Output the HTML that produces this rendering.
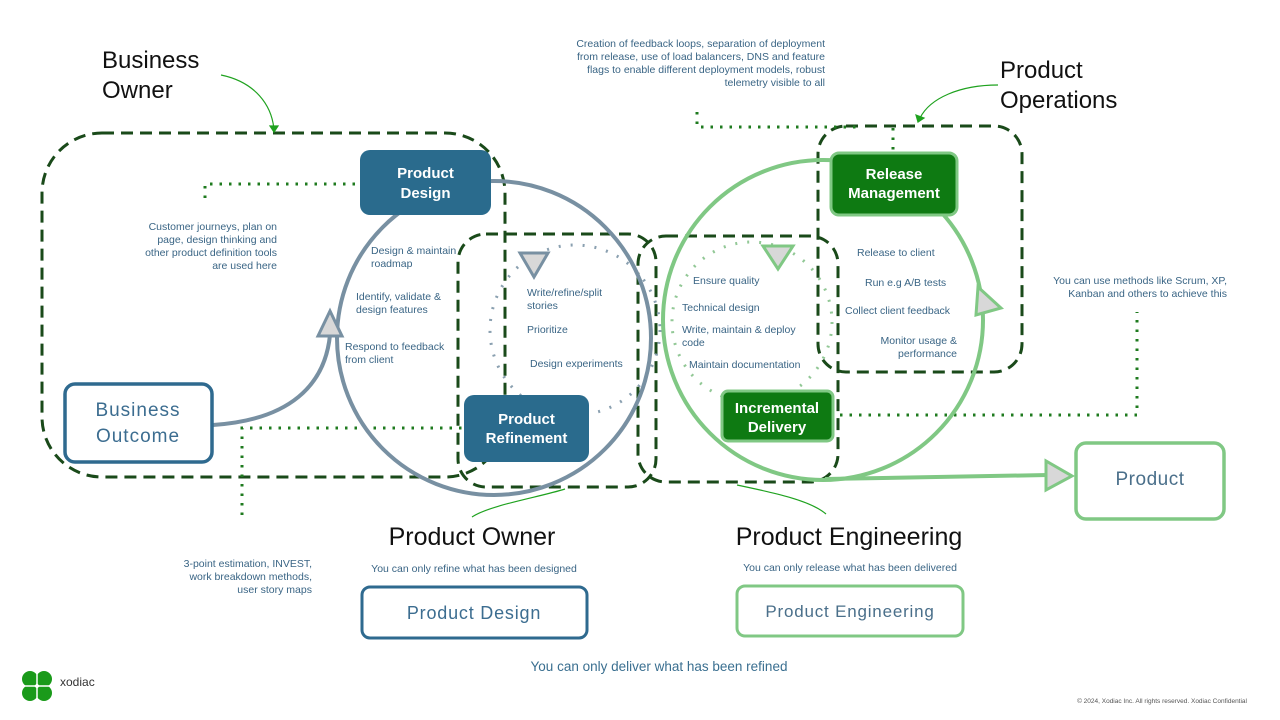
<!DOCTYPE html>
<html><head><meta charset="utf-8"><style>
html,body{margin:0;padding:0;background:#fff;}
svg{display:block;font-family:"Liberation Sans",sans-serif;}
.s{font-size:10.5px;fill:#3a6585;}
</style></head><body>
<svg width="1280" height="720" viewBox="0 0 1280 720" xmlns="http://www.w3.org/2000/svg">
<g fill="none" stroke="#1a4a1a" stroke-width="3" stroke-dasharray="12,7">
<rect x="42" y="133" width="463" height="344" rx="60"/>
<rect x="458" y="234" width="198" height="253" rx="28"/>
<rect x="638" y="236" width="200" height="246" rx="28"/>
<rect x="818" y="126" width="204" height="246" rx="28"/>
</g>
<g fill="none" stroke="#1e7a1e" stroke-width="3" stroke-dasharray="2.5,7">
<polyline points="205,198 205,184 360,184"/>
<polyline points="242,515 242,428 462,428"/>
<polyline points="697,112 697,127 860,127"/>
<line x1="893" y1="128" x2="893" y2="152"/>
<polyline points="840,415 1137,415 1137,312"/>
</g>
<circle cx="575" cy="330" r="85" fill="none" stroke="#8aa0b0" stroke-width="3" stroke-dasharray="2,10"/>
<circle cx="752" cy="322" r="80" fill="none" stroke="#92c896" stroke-width="3" stroke-dasharray="2,10"/>
<circle cx="494" cy="338" r="157" fill="none" stroke="#7890a2" stroke-width="4"/>
<path d="M213,425 C290,420 325,385 330,335" fill="none" stroke="#7890a2" stroke-width="4"/>
<circle cx="823" cy="320" r="160" fill="none" stroke="#80c884" stroke-width="4"/>
<line x1="825" y1="479" x2="1048" y2="475" stroke="#80c884" stroke-width="4"/>
<polygon points="318,336 342,336 330,311" fill="#d8d8d8" stroke="#7890a2" stroke-width="3"/>
<polygon points="520,253 548,253 534,277" fill="#d8d8d8" stroke="#7890a2" stroke-width="3"/>
<polygon points="763,246 793,246 778,269" fill="#d8d8d8" stroke="#80c884" stroke-width="3"/>
<polygon points="978,287 1001,308 976,315" fill="#d8d8d8" stroke="#80c884" stroke-width="3"/>
<polygon points="1046,461 1046,490 1072,476" fill="#d8d8d8" stroke="#80c884" stroke-width="3"/>
<g fill="none" stroke="#1fa21f" stroke-width="1.2">
<path d="M221,75 C255,82 272,105 274,130"/><polygon points="270,126 278,126 274,132" fill="#1fa21f"/>
<path d="M998,85 C960,85 930,98 920,118"/><polygon points="916,115 924,118 918,122" fill="#1fa21f"/>
<path d="M472,517 C490,505 540,497 565,489"/>
<path d="M826,514 C810,500 770,492 737,485"/>
</g>
<rect x="360" y="150" width="131" height="65" rx="10" fill="#2a6b8d"/>
<text x="425.5" y="178" text-anchor="middle" fill="#fff" font-size="15" font-weight="bold">Product</text>
<text x="425.5" y="198" text-anchor="middle" fill="#fff" font-size="15" font-weight="bold">Design</text>
<rect x="464" y="395" width="125" height="67" rx="10" fill="#2a6b8d"/>
<text x="526.5" y="424" text-anchor="middle" fill="#fff" font-size="15" font-weight="bold">Product</text>
<text x="526.5" y="443" text-anchor="middle" fill="#fff" font-size="15" font-weight="bold">Refinement</text>
<rect x="831" y="153" width="126" height="62" rx="8" fill="#0e7a12" stroke="#80c884" stroke-width="3"/>
<text x="894" y="179" text-anchor="middle" fill="#fff" font-size="15" font-weight="bold">Release</text>
<text x="894" y="198" text-anchor="middle" fill="#fff" font-size="15" font-weight="bold">Management</text>
<rect x="722" y="391" width="111" height="50" rx="6" fill="#0e7a12" stroke="#80c884" stroke-width="3"/>
<text x="777" y="413" text-anchor="middle" fill="#fff" font-size="15" font-weight="bold">Incremental</text>
<text x="777" y="432" text-anchor="middle" fill="#fff" font-size="15" font-weight="bold">Delivery</text>
<rect x="65" y="384" width="147" height="78" rx="10" fill="#fff" stroke="#2f6a8f" stroke-width="3.5"/>
<text x="138" y="416" text-anchor="middle" fill="#3c6d90" font-size="19" letter-spacing="1">Business</text>
<text x="138" y="442" text-anchor="middle" fill="#3c6d90" font-size="19" letter-spacing="1">Outcome</text>
<rect x="1076" y="443" width="148" height="76" rx="10" fill="#fff" stroke="#80c884" stroke-width="3.5"/>
<text x="1150" y="485" text-anchor="middle" fill="#4a6f8a" font-size="19" letter-spacing="0.5">Product</text>
<rect x="362" y="587" width="225" height="51" rx="8" fill="#fff" stroke="#2f6a8f" stroke-width="3"/>
<text x="474" y="619" text-anchor="middle" fill="#3c6d90" font-size="18" letter-spacing="0.8">Product Design</text>
<rect x="737" y="586" width="226" height="50" rx="8" fill="#fff" stroke="#80c884" stroke-width="3"/>
<text x="850" y="617" text-anchor="middle" fill="#4a6f8a" font-size="17" letter-spacing="0.8">Product Engineering</text>
<text x="102" y="68" font-size="24" fill="#111">Business</text>
<text x="102" y="98" font-size="24" fill="#111">Owner</text>
<text x="1000" y="78" font-size="24" fill="#111">Product</text>
<text x="1000" y="108" font-size="24" fill="#111">Operations</text>
<text x="472" y="545" text-anchor="middle" font-size="25" fill="#111">Product Owner</text>
<text x="849" y="545" text-anchor="middle" font-size="25" fill="#111">Product Engineering</text>
<text x="474" y="572" text-anchor="middle" class="s">You can only refine what has been designed</text>
<text x="850" y="571" text-anchor="middle" class="s">You can only release what has been delivered</text>
<text x="659" y="671" text-anchor="middle" font-size="13.5" fill="#3a6f90">You can only deliver what has been refined</text>
<g class="s" text-anchor="end">
<text x="277" y="230">Customer journeys, plan on</text>
<text x="277" y="243">page, design thinking and</text>
<text x="277" y="256">other product definition tools</text>
<text x="277" y="269">are used here</text>
<text x="312" y="567">3-point estimation, INVEST,</text>
<text x="312" y="580">work breakdown methods,</text>
<text x="312" y="593">user story maps</text>
<text x="825" y="47">Creation of feedback loops, separation of deployment</text>
<text x="825" y="60">from release, use of load balancers, DNS and feature</text>
<text x="825" y="73">flags to enable different deployment models, robust</text>
<text x="825" y="86">telemetry visible to all</text>
<text x="1227" y="284">You can use methods like Scrum, XP,</text>
<text x="1227" y="297">Kanban and others to achieve this</text>
<text x="957" y="344">Monitor usage &amp;</text>
<text x="957" y="354" dy="3">performance</text>
</g>
<g class="s">
<text x="371" y="254">Design &amp; maintain</text>
<text x="371" y="267">roadmap</text>
<text x="356" y="300">Identify, validate &amp;</text>
<text x="356" y="313">design features</text>
<text x="345" y="350">Respond to feedback</text>
<text x="345" y="363">from client</text>
<text x="527" y="296">Write/refine/split</text>
<text x="527" y="309">stories</text>
<text x="527" y="333">Prioritize</text>
<text x="530" y="367">Design experiments</text>
<text x="693" y="284">Ensure quality</text>
<text x="682" y="311">Technical design</text>
<text x="682" y="333">Write, maintain &amp; deploy</text>
<text x="682" y="346">code</text>
<text x="689" y="368">Maintain documentation</text>
<text x="857" y="256">Release to client</text>
<text x="865" y="286">Run e.g A/B tests</text>
<text x="845" y="314">Collect client feedback</text>
</g>
<g fill="#1a9a1a">
<circle cx="30" cy="679" r="8"/><circle cx="44" cy="679" r="8"/>
<circle cx="30" cy="693" r="8"/><circle cx="44" cy="693" r="8"/>
</g>
<line x1="37" y1="670" x2="37" y2="702" stroke="#fff" stroke-width="1.5"/>
<line x1="21" y1="686" x2="53" y2="686" stroke="#fff" stroke-width="1.5"/>
<text x="60" y="686" font-size="12" fill="#333">xodiac</text>
<text x="1247" y="703" text-anchor="end" font-size="6.5" fill="#555">© 2024, Xodiac Inc. All rights reserved. Xodiac Confidential</text>
</svg>
</body></html>
